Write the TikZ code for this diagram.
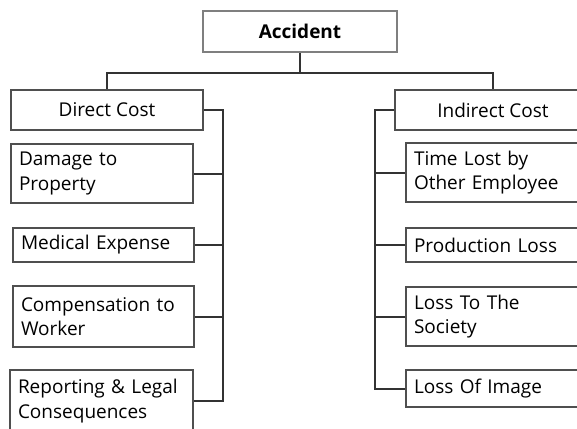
\documentclass[tikz,border=0pt]{standalone}
\usepackage{fontspec}
\setmainfont{Open Sans}
\usepackage{xcolor}
\definecolor{linegray}{HTML}{333333}
\definecolor{boxgray}{HTML}{4F4F4F}
\definecolor{topgray}{HTML}{7F7F7F}

\begin{document}
\begin{tikzpicture}[x=1pt, y=-1pt,
    every node/.style = {shape=rectangle, draw=boxgray, line width=2pt,
      anchor=north west, inner sep=0pt,
      font=\fontsize{19}{24.5}\selectfont},
    costbox/.style = {minimum width=#1, minimum height=40pt, align=center},
    itembox/.style 2 args = {minimum height=#2, text width=#1-16pt,
      inner xsep=8pt, align=left},
    link/.style = {draw=linegray, line width=2pt}]
    \clip (0,0) rectangle (577,428);
    \node[minimum width=194pt, minimum height=41pt, draw=topgray,
      font=\fontsize{19}{24.5}\selectfont\bfseries] (acc) at (202,10) {Accident};
    \node[costbox=192pt] (dc) at (10,89) {Direct Cost};
    \node[costbox=196pt] (ic) at (394,89) {Indirect Cost};
    \node[itembox={182pt}{59pt}] (dmg) at (10,143) {Damage to\\Property};
    \node[itembox={181pt}{34pt}] (med) at (12,227) {Medical Expense};
    \node[itembox={181pt}{61pt}] (comp) at (12,285) {Compensation to\\Worker};
    \node[itembox={183pt}{62pt}] (rep) at (9,369) {Reporting \& Legal\\Consequences};
    \node[itembox={195pt}{59pt}] (time) at (405,142) {Time Lost by\\Other Employee};
    \node[itembox={195pt}{34pt}] (prod) at (405,227) {Production Loss};
    \node[itembox={195pt}{59pt}] (soc) at (405,286) {Loss To The\\Society};
    \node[itembox={195pt}{37pt}] (img) at (405,369) {Loss Of Image};
    \path (acc.south) ++(0,20) coordinate (hub);
    \draw[link] (acc.south) -- (hub);
    \draw[link] (dc.north) |- (hub) -| (ic.north);
    \draw[link] (dc.east) -- ++(19,0) coordinate (lbus) |- (rep.east);
    \draw[link] (ic.west) -- ++(-19,0) coordinate (rbus) |- (img.west);
    \foreach \item in {dmg, med, comp}
      \draw[link] (\item.east) -- (\item.east -| lbus);
    \foreach \item in {time, prod, soc}
      \draw[link] (\item.west) -- (\item.west -| rbus);
  \end{tikzpicture}
\end{document}
